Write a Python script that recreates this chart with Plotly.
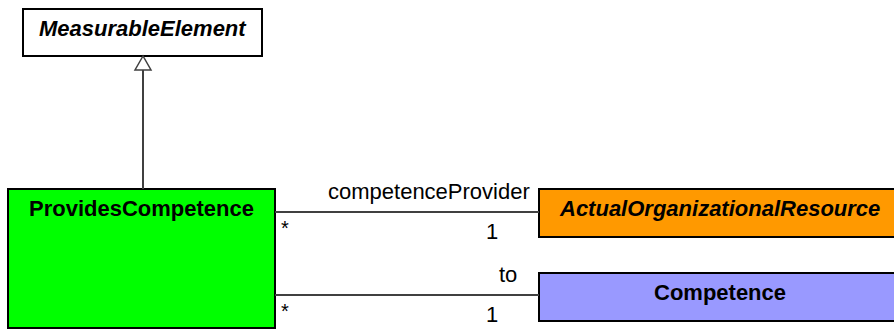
import plotly.graph_objects as go

# class boxes: name, fill colour, italic (abstract)
class_names = ["MeasurableElement", "ProvidesCompetence", "ActualOrganizationalResource", "Competence"]
class_fills = ["#ffffff", "#00ff00", "#ff9900", "#9999ff"]
class_italic = [True, False, True, False]

# associations from ProvidesCompetence: role name, source multiplicity, target multiplicity
role_names = ["competenceProvider", "to"]
src_mult = ["*", "*"]
dst_mult = ["1", "1"]

# geometry (pixel space, y downwards)
boxes = {
    "MeasurableElement": (23, 9, 262, 56),
    "ProvidesCompetence": (8, 189, 275, 328),
    "ActualOrganizationalResource": (539, 189, 900, 237),
    "Competence": (539, 273, 900, 321),
}
assoc_y = [212, 295]
role_right = [532, 519]

W, H = 894, 329
FONT = "Liberation Sans, Arial, sans-serif"
line_col = "#404040"

fig = go.Figure()
shapes = []
annotations = []

for name, fill, ital in zip(class_names, class_fills, class_italic):
    x0, y0, x1, y1 = boxes[name]
    shapes.append(dict(type="rect", x0=x0, y0=y0, x1=x1, y1=y1,
                       fillcolor=fill, line=dict(color="black", width=2), layer="below"))
    txt = "<b>" + name + "</b>"
    if ital:
        txt = "<i>" + txt + "</i>"
    cx = (x0 + x1) / 2
    annotations.append(dict(x=cx, y=y0 + 19, text=txt, showarrow=False,
                            font=dict(family=FONT, size=22, color="black"),
                            xanchor="center", yanchor="middle"))

# generalization ProvidesCompetence -> MeasurableElement
gx = 143
tip = boxes["MeasurableElement"][3]
base = tip + 14
shapes.append(dict(type="line", x0=gx, y0=base, x1=gx, y1=boxes["ProvidesCompetence"][1],
                   line=dict(color=line_col, width=2)))
shapes.append(dict(type="path", path=f"M {gx} {tip} L {gx-8} {base} L {gx+8} {base} Z",
                   fillcolor="white", line=dict(color=line_col, width=1.5)))

# associations
x_src = boxes["ProvidesCompetence"][2]
x_dst = boxes["Competence"][0]
for y, rx, role, sm, dm in zip(assoc_y, role_right, role_names, src_mult, dst_mult):
    shapes.append(dict(type="line", x0=x_src, y0=y, x1=x_dst, y1=y,
                       line=dict(color=line_col, width=2)))
    annotations.append(dict(x=rx, y=y - 21, text=role, showarrow=False,
                            font=dict(family=FONT, size=22, color="black"),
                            xanchor="right", yanchor="middle"))
    annotations.append(dict(x=x_src + 10, y=y + 16, text=sm, showarrow=False,
                            font=dict(family=FONT, size=20, color="black"),
                            xanchor="center", yanchor="middle"))
    annotations.append(dict(x=x_dst - 47, y=y + 19, text=dm, showarrow=False,
                            font=dict(family=FONT, size=22, color="black"),
                            xanchor="center", yanchor="middle"))

fig.update_layout(
    width=W, height=H,
    margin=dict(l=0, r=0, t=0, b=0),
    paper_bgcolor="white", plot_bgcolor="white",
    xaxis=dict(range=[0, W], visible=False, fixedrange=True),
    yaxis=dict(range=[H, 0], visible=False, fixedrange=True),
    shapes=shapes, annotations=annotations,
    showlegend=False,
)

fig.write_html("out.html", config={"displayModeBar": False},
               post_script="document.body.style.margin='0';document.body.style.overflow='hidden';")
